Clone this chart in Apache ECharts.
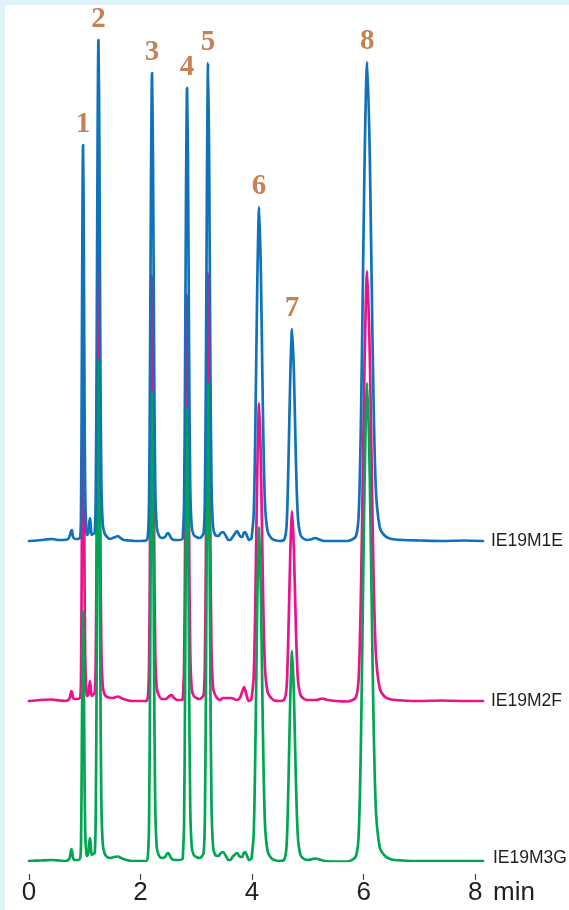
<!DOCTYPE html>
<html>
<head>
<meta charset="utf-8">
<script src="https://cdn.jsdelivr.net/npm/echarts@6/dist/echarts.min.js"></script>
<style>
html,body{margin:0;padding:0;background:#e0f2fa;width:569px;height:910px;overflow:hidden;}
#chart{position:absolute;left:5px;top:5px;width:564px;height:905px;background:#ffffff;}
</style>
</head>
<body>
<div id="chart"></div>
<script>
// ---- data (time in min, signal in arbitrary units above each trace's baseline) ----
const seriesNames = ['IE19M1E', 'IE19M2F', 'IE19M3G'];
const xTicks = [0, 2, 4, 6, 8];
const xUnit = 'min';
const peakNames = ['1', '2', '3', '4', '5', '6', '7', '8'];
const peakTimes = [0.969, 1.245, 2.206, 2.834, 3.211, 4.126, 4.717, 6.063];
const peakHeightsM1E = [396, 501, 468, 453, 478, 334, 212, 479];

const traceM1E = [
  [0.00,0],[0.15,0.5],[0.30,1.5],[0.42,2],[0.52,1],[0.62,1],[0.70,2],[0.735,6],[0.755,10],[0.77,11],[0.785,5],[0.80,3],[0.83,2],[0.88,2],
  [0.919,4],[0.933,32],[0.945,147],[0.957,309],[0.969,396],[0.981,317],[0.993,166],[1.007,50],[1.025,12],[1.040,6],
  [1.065,8],[1.08,18],[1.094,23],[1.108,14],[1.125,6],[1.145,7],
  [1.178,8],[1.196,43],[1.213,188],[1.229,391],[1.245,501],[1.261,401],[1.277,210],[1.296,63],[1.321,18],[1.353,8],
  [1.40,4],[1.453,2],[1.50,3],[1.55,4],[1.596,5],[1.64,3],[1.70,1],[1.80,0.5],[1.90,0],[2.00,0],[2.10,0.5],
  [2.131,5],[2.152,37],[2.170,173],[2.188,365],[2.206,468],[2.224,374],[2.242,197],[2.263,56],[2.290,14],[2.326,6],
  [2.38,3],[2.44,4],[2.47,7],[2.493,8],[2.52,6],[2.56,2],[2.62,1],[2.70,1],[2.75,2],
  [2.759,5],[2.780,36],[2.798,168],[2.816,353],[2.834,453],[2.852,362],[2.870,190],[2.891,54],[2.918,14],[2.954,6],
  [3.00,4],[3.05,3],[3.09,4],
  [3.131,8],[3.153,41],[3.173,177],[3.192,373],[3.211,478],[3.230,382],[3.249,201],[3.272,57],[3.301,14],[3.339,6],
  [3.39,5],[3.44,8],[3.48,9],[3.53,5],[3.58,1],[3.605,1],[3.65,4],[3.70,8],[3.731,10],[3.77,6],[3.80,4],[3.821,4],[3.85,8],[3.874,9],[3.91,5],[3.946,1],[3.98,2],
  [3.991,3],[4.029,27],[4.061,124],[4.094,261],[4.126,334],[4.158,267],[4.191,140],[4.229,40],[4.277,10],[4.342,3],
  [4.40,1],[4.50,0],
  [4.582,2],[4.620,17],[4.652,78],[4.685,165],[4.717,212],[4.749,170],[4.782,89],[4.820,25],[4.868,6],[4.933,2],
  [5.00,1],[5.08,2],[5.13,3],[5.18,2],[5.30,0],[5.50,0],[5.70,0],
  [5.863,5],[5.919,38],[5.967,177],[6.015,374],[6.063,479],[6.111,383],[6.159,201],[6.215,57],[6.287,14],[6.383,5],
  [6.50,2],[6.70,1],[7.00,0.5],[7.40,0],[7.80,0.5],[8.14,0]
];

const traceM2F = [
  [0.00,0],[0.20,1],[0.40,1.5],[0.55,0.5],[0.65,0],[0.72,2],[0.745,7],[0.76,10],[0.775,8],[0.79,3],[0.82,2],[0.88,2],
  [0.919,4],[0.933,28],[0.945,132],[0.957,278],[0.969,356],[0.981,285],[0.993,150],[1.007,45],[1.025,12],[1.040,5],
  [1.065,6],[1.08,15],[1.094,20],[1.108,12],[1.125,5],[1.145,6],
  [1.178,8],[1.196,39],[1.213,169],[1.229,352],[1.245,448],[1.261,361],[1.277,191],[1.296,57],[1.321,16],[1.353,7],
  [1.40,4],[1.50,3],[1.596,4.5],[1.65,3],[1.75,1],[1.85,0],[2.00,0],[2.10,0],
  [2.131,4],[2.152,34],[2.170,158],[2.188,332],[2.206,426],[2.224,341],[2.242,179],[2.263,51],[2.290,13],[2.326,6],
  [2.38,2],[2.45,2],[2.52,5],[2.56,6],[2.60,3],[2.66,1],[2.75,1],
  [2.759,4],[2.780,32],[2.798,150],[2.816,317],[2.834,406],[2.852,325],[2.870,171],[2.891,49],[2.918,12],[2.954,5],
  [3.00,3],[3.05,2],[3.09,3],
  [3.131,6],[3.153,36],[3.173,158],[3.192,334],[3.211,428],[3.230,342],[3.249,180],[3.272,51],[3.301,13],[3.339,6],
  [3.39,2],[3.43,1],[3.47,3],[3.55,3],[3.62,3],[3.68,2],[3.72,1],[3.78,3],[3.82,9],[3.857,14],[3.89,8],[3.92,2],[3.946,0],[3.98,1],
  [3.991,3],[4.029,24],[4.061,110],[4.094,232],[4.126,298],[4.158,238],[4.191,125],[4.229,36],[4.277,9],[4.342,3],
  [4.40,0.5],[4.50,0],
  [4.582,2],[4.620,15],[4.652,70],[4.685,148],[4.717,190],[4.749,152],[4.782,80],[4.820,23],[4.868,6],[4.933,2],
  [5.00,1],[5.15,1],[5.256,2.5],[5.35,1],[5.50,0],[5.70,-0.5],
  [5.863,4],[5.919,34],[5.967,159],[6.015,335],[6.063,430],[6.111,344],[6.159,181],[6.215,52],[6.287,13],[6.383,4],
  [6.50,1.5],[6.70,0.5],[7.00,0],[7.40,0.5],[7.80,0],[8.14,0]
];

const traceM3G = [
  [0.00,0],[0.20,0.5],[0.40,1],[0.55,0.5],[0.65,0],[0.72,2],[0.745,8],[0.76,12],[0.775,9],[0.79,3],[0.82,1],[0.88,1],
  [0.919,3],[0.933,20],[0.945,93],[0.957,195],[0.969,250],[0.981,200],[0.993,105],[1.007,31],[1.025,9],[1.040,5],
  [1.065,8],[1.08,18],[1.094,23],[1.108,14],[1.125,6],[1.145,7],
  [1.178,8],[1.196,43],[1.213,188],[1.229,391],[1.245,501],[1.261,401],[1.277,210],[1.296,63],[1.321,18],[1.353,8],
  [1.40,4],[1.46,3],[1.52,4],[1.596,4.5],[1.65,3],[1.75,1],[1.85,0],[2.00,0],[2.10,0],
  [2.131,5],[2.152,37],[2.170,173],[2.188,365],[2.206,468],[2.224,374],[2.242,197],[2.263,56],[2.290,14],[2.326,6],
  [2.38,3],[2.44,4],[2.47,7],[2.493,8],[2.52,6],[2.56,2],[2.62,1],[2.70,1],[2.75,2],
  [2.759,5],[2.780,36],[2.798,168],[2.816,353],[2.834,453],[2.852,362],[2.870,190],[2.891,54],[2.918,14],[2.954,6],
  [3.00,4],[3.05,3],[3.09,4],
  [3.131,8],[3.153,41],[3.173,177],[3.192,373],[3.211,478],[3.230,382],[3.249,201],[3.272,57],[3.301,14],[3.339,6],
  [3.39,5],[3.44,8],[3.48,9],[3.53,5],[3.58,1],[3.605,1],[3.65,4],[3.70,7],[3.731,8],[3.77,5],[3.80,4],[3.821,4],[3.85,8],[3.874,9],[3.91,5],[3.946,1],[3.98,2],
  [3.991,3],[4.029,27],[4.061,124],[4.094,261],[4.126,334],[4.158,267],[4.191,140],[4.229,40],[4.277,10],[4.342,3],
  [4.40,1],[4.50,0],
  [4.582,2],[4.620,17],[4.652,78],[4.685,164],[4.717,210],[4.749,168],[4.782,88],[4.820,25],[4.868,6],[4.933,2],
  [5.00,1],[5.08,2],[5.13,2.5],[5.18,2],[5.30,0],[5.50,-0.5],[5.70,-0.5],
  [5.863,5],[5.919,38],[5.967,177],[6.015,373],[6.063,478],[6.111,382],[6.159,201],[6.215,57],[6.287,14],[6.383,5],
  [6.50,1.5],[6.70,0.5],[7.00,0],[7.40,0],[7.80,0],[8.14,0]
];

// ---- styling / layout ----
const colors = ['#0f72bb', '#ec118c', '#00a651'];
const traces = [traceM1E, traceM2F, traceM3G];
const traceZ = [5, 3, 4];
const gridHeight = 831;
const traceOffsets = [320, 160, 0]; // px spacing of stacked baselines

const chart = echarts.init(document.getElementById('chart'), null, {renderer: 'canvas'});

const yAxes = traceOffsets.map(off => ({
  type: 'value', show: false, min: -off, max: gridHeight - off
}));

const series = traces.map((d, i) => ({
  name: seriesNames[i],
  type: 'line',
  data: d,
  yAxisIndex: i,
  z: traceZ[i],
  showSymbol: false,
  symbol: 'none',
  smooth: 0.3,
  silent: true,
  lineStyle: {color: colors[i], width: 2.7, join: 'round', cap: 'round'},
  endLabel: {
    show: true, formatter: '{a}', distance: i === 2 ? 10 : 8,
    color: '#231f20', fontSize: 17.5, fontFamily: 'Liberation Sans, Arial, sans-serif',
    offset: [0, i === 2 ? -3 : 0]
  },
  emphasis: {disabled: true}
}));

series.push({
  type: 'scatter',
  yAxisIndex: 0,
  z: 10,
  silent: true,
  symbol: 'circle',
  symbolSize: 2,
  itemStyle: {color: 'rgba(255,255,255,0)'},
  data: peakNames.map((n, i) => ({name: n, value: [peakTimes[i], peakHeightsM1E[i]]})),
  label: {
    show: true, position: 'top', distance: 5, formatter: '{b}',
    color: '#b8622d', fontSize: 29, fontWeight: 'bold',
    fontFamily: 'Liberation Serif, Times New Roman, serif'
  },
  emphasis: {disabled: true}
});

chart.setOption({
  animation: false,
  backgroundColor: 'transparent',
  grid: {left: 24, right: 86, top: 25, bottom: 49, containLabel: false},
  xAxis: {
    type: 'value', min: 0, max: 8.14, offset: 13,
    name: xUnit, nameLocation: 'end', nameGap: 10,
    nameTextStyle: {color: '#231f20', fontSize: 26, fontFamily: 'Liberation Sans, Arial, sans-serif',
      verticalAlign: 'top', padding: [6, 0, 0, 0]},
    axisLine: {show: false, onZero: false},
    splitLine: {show: false},
    axisTick: {show: true, length: 6, customValues: xTicks, lineStyle: {color: '#444', width: 1.2}},
    axisLabel: {show: true, customValues: xTicks, margin: 6, color: '#231f20', fontSize: 26,
      fontFamily: 'Liberation Sans, Arial, sans-serif'}
  },
  yAxis: yAxes,
  series: series
});
</script>
</body>
</html>
